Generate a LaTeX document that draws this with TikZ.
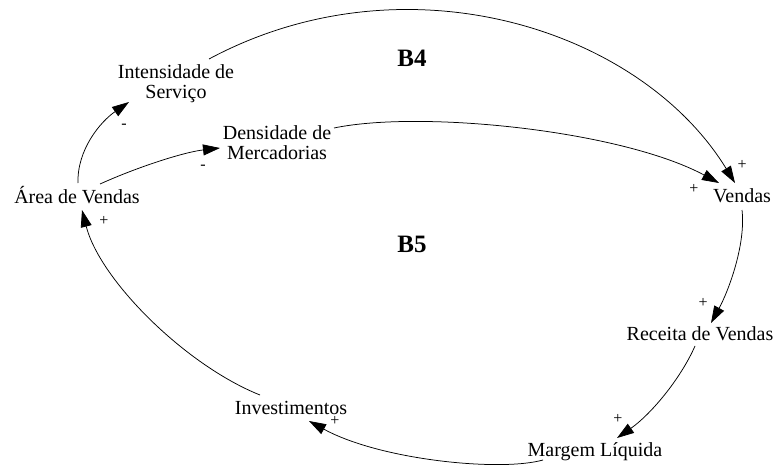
\documentclass[tikz,border=0pt]{standalone}
\usepackage{fontspec}
\setmainfont{Liberation Serif}
\usetikzlibrary{arrows.meta}
\tikzset{
  var/.style={inner sep=0pt, align=center, font=\fontsize{20}{20}\selectfont},
  loopname/.style={inner sep=0pt, font=\fontsize{25}{25}\selectfont\bfseries},
  pol/.style={inner sep=0pt, font=\fontsize{16}{16}\selectfont},
  link/.style={draw, line width=0.75pt, -{Triangle[length=17pt,width=11pt]}}
}
\begin{document}
\begin{tikzpicture}[x=1pt,y=-1pt]
\useasboundingbox (0,0) rectangle (778,468);
% variables
\node[var] (int) at (176,84) {Intensidade de\\Serviço};
\node[var] (den) at (277,143) {Densidade de\\Mercadorias};
\node[var,anchor=base] (area) at (77,203) {Área de Vendas};
\node[var,anchor=base] (vend) at (742,202) {Vendas};
\node[var,anchor=base] (rec) at (700,340) {Receita de Vendas};
\node[var,anchor=base] (marg) at (595,456) {Margem Líquida};
\node[var,anchor=base] (inv) at (291,414) {Investimentos};
% loop names
\node[loopname,anchor=base] (b4) at (412,67) {B4};
\node[loopname,anchor=base] (b5) at (412,252) {B5};
% links
\draw[link] ([shift={(1,-20)}]area.base) .. controls (77,150) and (100,122) .. ([shift={(-47,18)}]int.center);
\draw[link] ([shift={(23,-19)}]area.base) .. controls (140,166) and (185,152) .. ([shift={(-57,5)}]den.center);
\draw[link] ([shift={(33,-25)}]int.center) .. controls (405,-46) and (640,28) .. ([shift={(-7,-19)}]vend.base);
\draw[link] ([shift={(57,-15)}]den.center) .. controls (420,110) and (620,130) .. ([shift={(-23,-19)}]vend.base);
\draw[link] ([shift={(0,8)}]vend.base) .. controls (746,245) and (728,292) .. ([shift={(11,-17)}]rec.base);
\draw[link] ([shift={(-5,6)}]rec.base) .. controls (680,380) and (650,415) .. ([shift={(22,-18)}]marg.base);
\draw[link] ([shift={(-52,4)}]marg.base) .. controls (500,472) and (380,460) .. ([shift={(18,7)}]inv.base);
\draw[link] ([shift={(-31,-19)}]inv.base) .. controls (185,365) and (100,280) .. ([shift={(5,7)}]area.base);
% polarities
\node[pol] (p1) at (124,126) {-};
\node[pol] (p2) at (203,167) {-};
\node[pol] (p3) at (742,165) {+};
\node[pol] (p4) at (694,189) {+};
\node[pol] (p5) at (703,303) {+};
\node[pol] (p6) at (618,419) {+};
\node[pol] (p7) at (335,421) {+};
\node[pol] (p8) at (104,221) {+};
\end{tikzpicture}
\end{document}
